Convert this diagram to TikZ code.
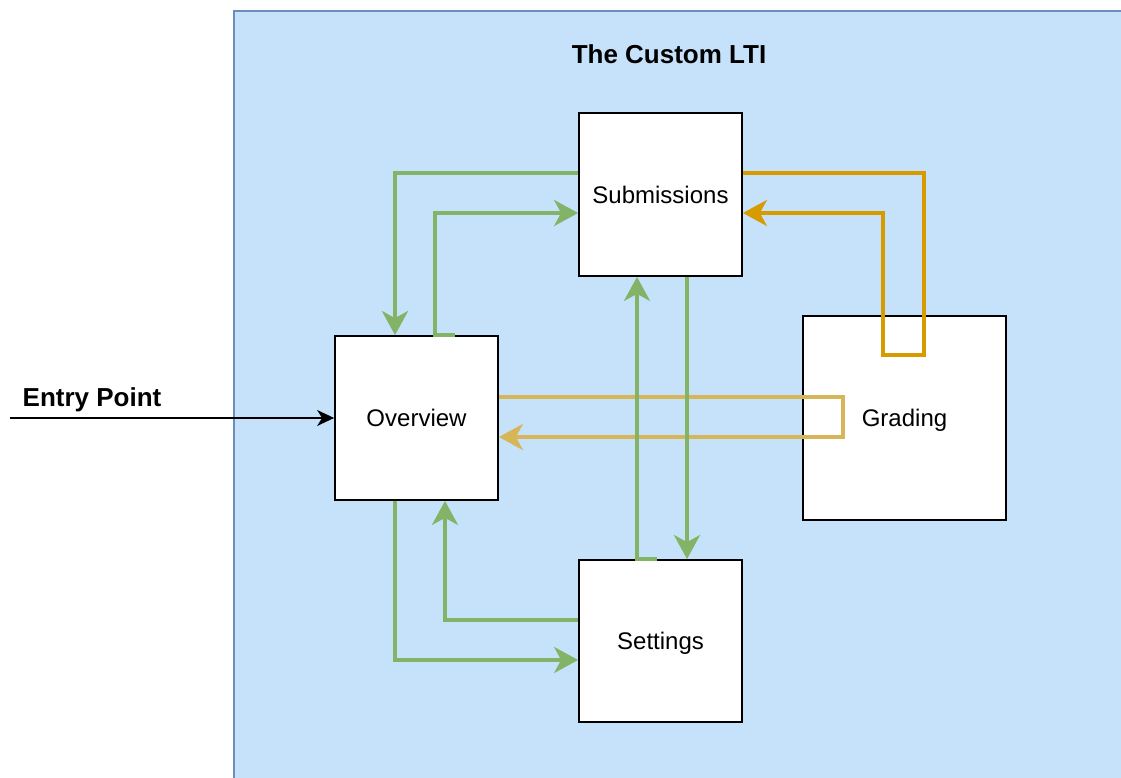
\documentclass[tikz,border=0pt]{standalone}
\usepackage{fontspec}
\setmainfont{Liberation Sans}
\usetikzlibrary{arrows.meta}
\definecolor{ltifill}{RGB}{198,226,251}
\definecolor{ltiline}{HTML}{6C8EBF}
\definecolor{flowgreen}{HTML}{82B366}
\definecolor{floworange}{HTML}{D79B00}
\definecolor{flowyellow}{HTML}{D6B656}
\tikzset{
  page/.style={draw=black, line width=1.8pt, fill=white, inner sep=0pt,
    text height=17.2pt, text depth=0pt,
    font=\fontsize{24}{28}\selectfont},
  heading/.style={font=\fontsize{26}{30}\selectfont\bfseries, inner sep=0pt},
  flow/.style={line width=3.6pt, -{Stealth[length=24pt, width=26pt, inset=7pt]}},
  entryarrow/.style={draw=black, line width=1.6pt, -{Stealth[length=17pt, width=16pt, inset=5pt]}}
}
\begin{document}
\begin{tikzpicture}[x=1pt, y=-1pt]
\useasboundingbox (0,0) rectangle (1121,778);

% container of the tool
\begin{scope}
  \clip (0,0) rectangle (1121,778);
  \draw[fill=ltifill, draw=ltiline, line width=1.5pt] (234,11) rectangle (1140,800);
\end{scope}
\node[heading] (title) at (669,54) {The Custom LTI};

% pages
\node[page, minimum width=163pt, minimum height=163pt] (sub) at (660.5,194.5) {Submissions};
\node[page, minimum width=163pt, minimum height=164pt] (ov)  at (416.5,418) {Overview};
\node[page, minimum width=203pt, minimum height=204pt] (gr)  at (904.5,418) {Grading};
\node[page, minimum width=163pt, minimum height=162pt] (set) at (660.5,641) {Settings};

% entry point
\coordinate (entry) at (10,418);
\node[heading] (entrylabel) at (92,400) {Entry Point};
\draw[entryarrow] (entry) -- (ov.west);

% overview <-> grading
\draw[flow, flowyellow] ([yshift=21pt]ov.east) -- (843,397) -- (843,437) -- ([yshift=-19pt]ov.east);

% submissions <-> grading
\draw[flow, floworange] ([yshift=21.5pt]sub.east) -- (924,173) -- (924,355) -- (883,355) -- (883,213) -- ([yshift=-18.5pt]sub.east);

% overview <-> submissions
\draw[flow, flowgreen] ([yshift=21.5pt]sub.west) -| ([xshift=-21.5pt]ov.north);
\draw[flow, flowgreen] ([xshift=38.5pt]ov.north) -- ([xshift=18.5pt]ov.north) |- ([yshift=-18.5pt]sub.west);

% submissions <-> settings
\draw[flow, flowgreen] ([xshift=26.5pt]sub.south) -- ([xshift=26.5pt]set.north);
\draw[flow, flowgreen] ([xshift=-3.5pt]set.north) -- ([xshift=-23.5pt]set.north) -- ([xshift=-23.5pt]sub.south);

% overview <-> settings
\draw[flow, flowgreen] ([xshift=-21.5pt]ov.south) |- ([yshift=-19pt]set.west);
\draw[flow, flowgreen] ([yshift=21pt]set.west) -| ([xshift=28.5pt]ov.south);
\end{tikzpicture}
\end{document}
